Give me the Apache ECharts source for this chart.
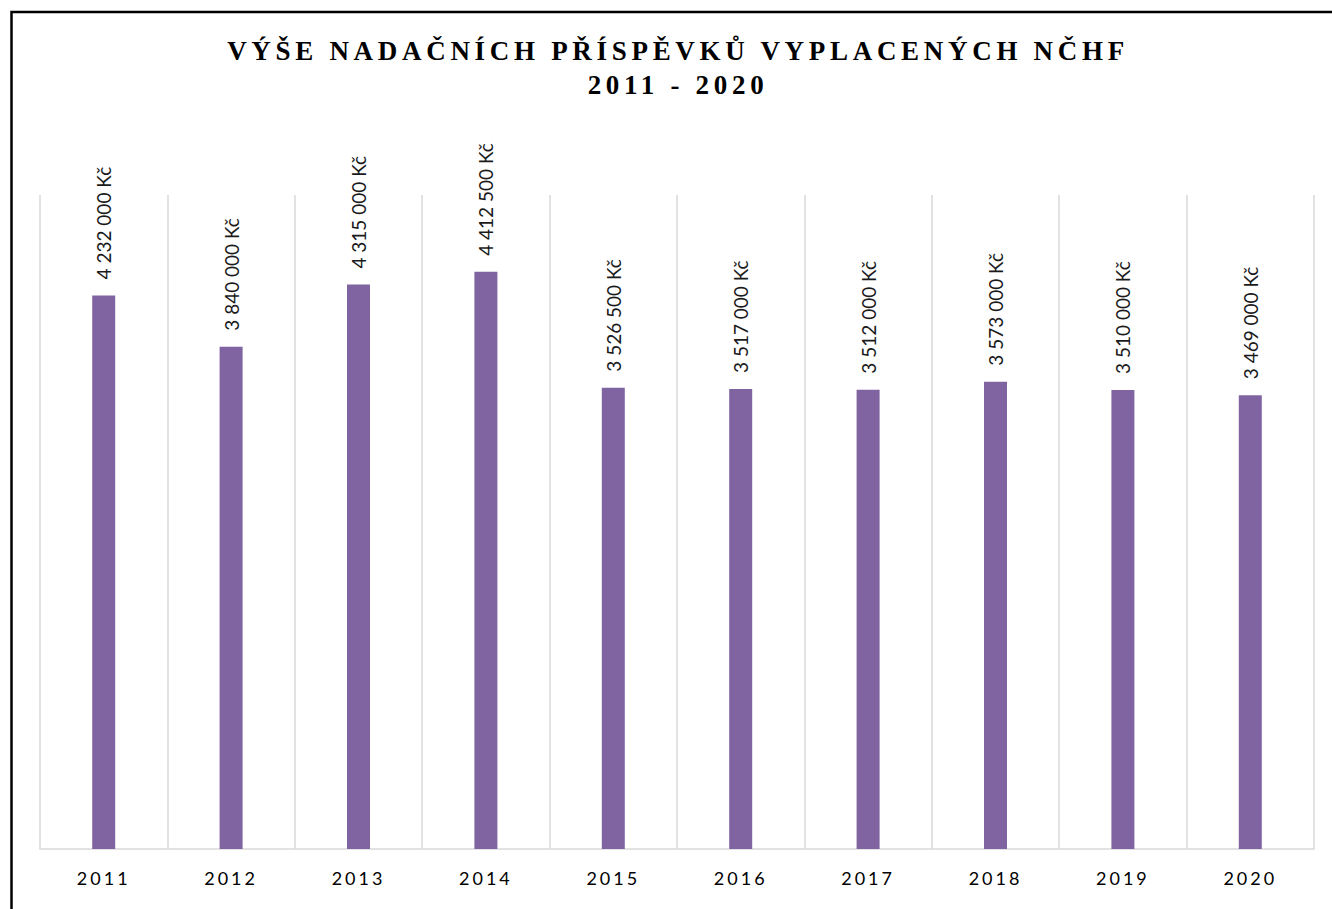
<!DOCTYPE html>
<html lang="cs">

<head>
    <meta charset="UTF-8">
    <title>Výše nadačních příspěvků</title>
    <script src="https://cdn.jsdelivr.net/npm/echarts@6/dist/echarts.min.js"></script>
    <style>
        html, body { margin: 0; padding: 0; background: #fff; }
        #chart { width: 1332px; height: 909px; }
        /* letter spacing like the original (svg renderer) */
        #chart text[style*='Liberation Serif'] { letter-spacing: 4.7px; }
        #chart text[style*='Carlito'] { letter-spacing: 3px; }
    </style>
</head>

<body>
    <div id="chart"></div>
    <script>
        // data
        const years = ['2011', '2012', '2013', '2014', '2015', '2016', '2017', '2018', '2019', '2020'];
        const amounts = [4232000, 3840000, 4315000, 4412500, 3526500, 3517000, 3512000, 3573000, 3510000, 3469000];
        const titleLines = ['VÝŠE NADAČNÍCH PŘÍSPĚVKŮ VYPLACENÝCH NČHF', '2011 - 2020'];

        function formatKc(v) {
            return String(v).replace(/\B(?=(\d{3})+(?!\d))/g, ' ') + ' Kč';
        }

        let myChart = echarts.init(document.getElementById('chart'), null, { renderer: 'svg' });

        let option = {
            backgroundColor: '#fff',
            animation: false,
            graphic: [
                {
                    type: 'rect',
                    shape: { x: 11.5, y: 12, width: 1400, height: 1000 },
                    style: { fill: 'none', stroke: '#000', lineWidth: 2.5 },
                    silent: true
                },
                {
                    type: 'text',
                    x: 678,
                    y: 34,
                    style: {
                        text: titleLines.join('\n'),
                        textAlign: 'center',
                        lineHeight: 34,
                        fontFamily: "'Liberation Serif', serif",
                        fontWeight: 'bold',
                        fontSize: 27,
                        fill: '#000'
                    }
                }
            ],
            grid: {
                left: 40,
                right: 18,
                top: 195,
                bottom: 60
            },
            xAxis: {
                type: 'category',
                data: years,
                axisLine: { lineStyle: { color: '#d9d9d9', width: 1.5 } },
                axisTick: { show: false },
                splitLine: { show: true, lineStyle: { color: '#d9d9d9', width: 1.5 } },
                axisLabel: {
                    color: '#000',
                    fontSize: 18,
                    fontFamily: 'Lato, Carlito, sans-serif',
                    margin: 20
                }
            },
            yAxis: {
                type: 'value',
                min: 0,
                max: 5000000,
                show: false,
                splitLine: { show: false }
            },
            series: [
                {
                    type: 'bar',
                    data: amounts,
                    barWidth: 23,
                    itemStyle: { color: '#8064A2' },
                    label: {
                        show: true,
                        position: 'top',
                        rotate: 90,
                        align: 'left',
                        verticalAlign: 'middle',
                        distance: 16,
                        fontSize: 19,
                        fontFamily: 'Lato, sans-serif',
                        color: '#1a1a1a',
                        formatter: function (p) { return formatKc(p.value); }
                    }
                }
            ]
        };

        myChart.setOption(option);
    </script>
</body>

</html>
